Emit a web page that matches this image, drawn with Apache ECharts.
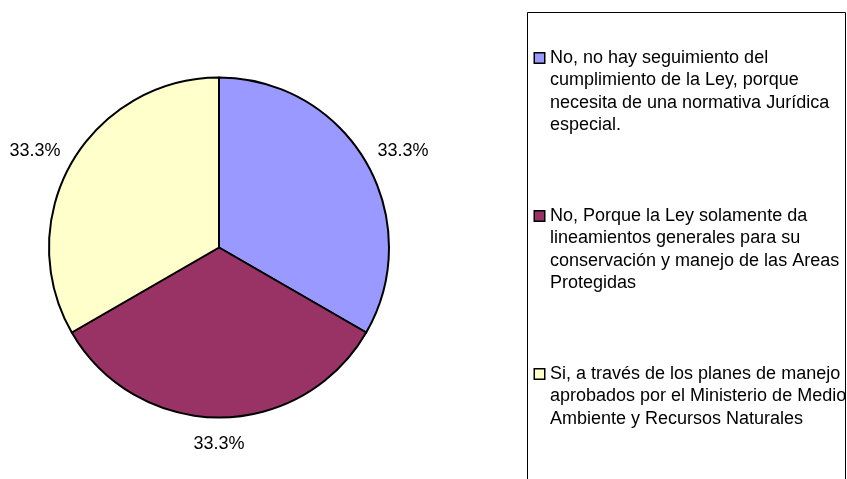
<!DOCTYPE html>
<html>
<head>
<meta charset="utf-8">
<script src="https://cdn.jsdelivr.net/npm/echarts@6/dist/echarts.min.js"></script>
<style>
  html, body { margin: 0; padding: 0; background: #fff; }
  #chart { width: 847px; height: 479px; }
</style>
</head>
<body>
<div id="chart"></div>
<script>
// legend names keep the line breaks seen in the picture
const categories = [
  'No, no hay seguimiento del\ncumplimiento de la Ley, porque\nnecesita de una normativa Jurídica\nespecial.',
  'No, Porque la Ley solamente da\nlineamientos generales para su\nconservación y manejo de las Areas\nProtegidas',
  'Si, a través de los planes de manejo\naprobados por el Ministerio de Medio\nAmbiente y Recursos Naturales'
];
const values = [1, 1, 1];
const colors = ['#9999FF', '#993366', '#FFFFCC'];

const FONT = '"Liberation Sans", Arial, sans-serif';
const CX = 219, CY = 247.5, R = 170;
const LABEL_R = 183; // where the near corner of each percent label sits
const LABEL_DY = 4.5;
const total = values.reduce((a, b) => a + b, 0);

const chart = echarts.init(document.getElementById('chart'), null, { renderer: 'canvas' });

// rich styles for the legend: a square marker on the first line, indent on the rest
const rich = {
  g: { width: 6, lineHeight: 22.5 },
  s: { width: 15, lineHeight: 22.5 },
  t: { fontFamily: FONT, fontSize: 18, color: '#000', lineHeight: 22.5 }
};
colors.forEach((c, i) => {
  rich['m' + i] = {
    width: 9, height: 9, lineHeight: 22.5,
    backgroundColor: c, borderColor: '#000', borderWidth: 1.5
  };
});

const option = {
  backgroundColor: '#fff',
  animation: false,
  graphic: [{
    type: 'rect',
    shape: { x: 527.5, y: 12.5, width: 318, height: 480 },
    style: { fill: 'none', stroke: '#000', lineWidth: 1 },
    silent: true
  }],
  legend: {
    orient: 'vertical',
    left: 529,
    top: 46.75,
    padding: 0,
    itemGap: 68,
    itemWidth: 0,
    itemHeight: 0,
    selectedMode: false,
    data: categories,
    textStyle: { fontFamily: FONT, fontSize: 18, color: '#000', lineHeight: 22.5, rich: rich },
    formatter: function (name) {
      const idx = categories.indexOf(name);
      return name.split('\n').map(function (line, i) {
        return i === 0 ? '{m' + idx + '|}{g|}{t|' + line + '}' : '{s|}{t|' + line + '}';
      }).join('\n');
    }
  },
  series: [{
    type: 'pie',
    center: [CX, CY],
    radius: R,
    startAngle: 90,
    clockwise: true,
    avoidLabelOverlap: false,
    emphasis: { disabled: true },
    itemStyle: { borderColor: '#000', borderWidth: 2 },
    label: {
      show: true,
      position: 'inside',
      fontFamily: FONT,
      fontSize: 18,
      color: '#000',
      formatter: function (p) {
        return (p.value / total * 100).toFixed(1) + '%';
      }
    },
    labelLine: { show: false },
    labelLayout: function (p) {
      let before = 0;
      for (let j = 0; j < p.dataIndex; j++) before += values[j];
      const mid = (before + values[p.dataIndex] / 2) / total * Math.PI * 2;
      const sx = Math.sin(mid), cy = Math.cos(mid);
      return {
        x: CX + LABEL_R * sx,
        y: CY - LABEL_R * cy + LABEL_DY,
        align: sx > 0.2 ? 'left' : (sx < -0.2 ? 'right' : 'center'),
        verticalAlign: cy > 0.2 ? 'bottom' : (cy < -0.2 ? 'top' : 'middle')
      };
    },
    data: categories.map(function (name, i) {
      return { name: name, value: values[i], itemStyle: { color: colors[i] } };
    })
  }]
};

chart.setOption(option);
</script>
</body>
</html>
